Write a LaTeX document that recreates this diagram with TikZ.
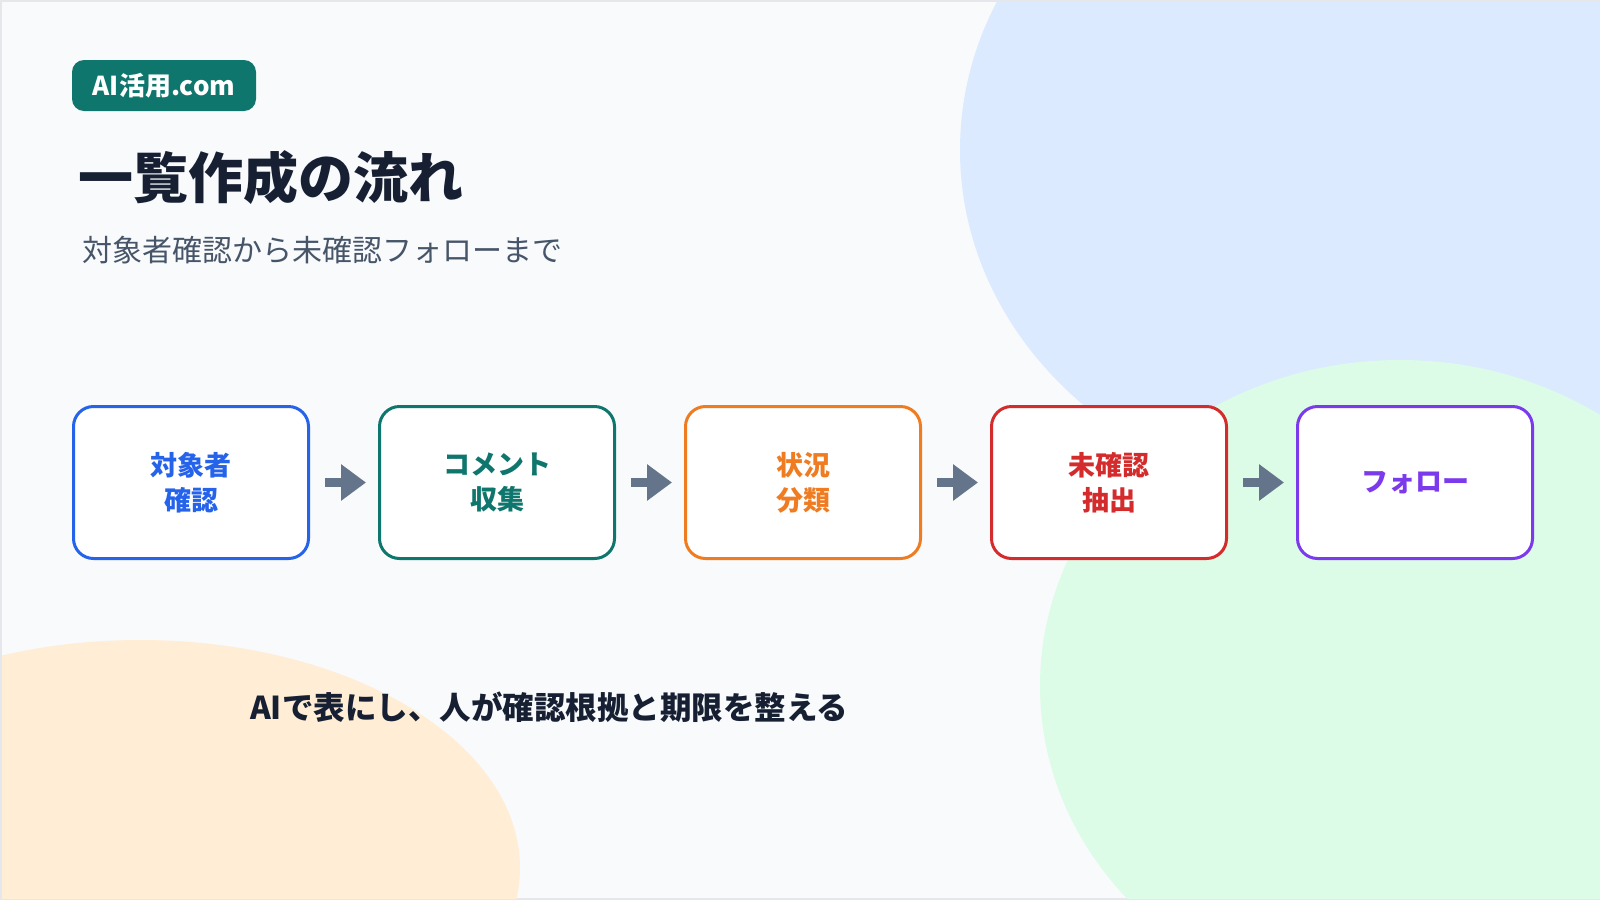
\documentclass[tikz,border=0pt]{standalone}
\usepackage{fontspec}
\setmainfont{Noto Sans CJK JP}
\usetikzlibrary{arrows.meta}
\definecolor{bg}{HTML}{F8FAFC}
\definecolor{framec}{HTML}{E5E7EB}
\definecolor{blobblue}{HTML}{DBEAFE}
\definecolor{blobgreen}{HTML}{DCFCE7}
\definecolor{blobpeach}{HTML}{FFEDD5}
\definecolor{badgec}{HTML}{0F766E}
\definecolor{ink}{HTML}{172033}
\definecolor{subc}{HTML}{475569}
\definecolor{arrowc}{HTML}{64748B}
\definecolor{cblue}{HTML}{2563EB}
\definecolor{cteal}{HTML}{0F766E}
\definecolor{corange}{HTML}{F07C22}
\definecolor{cred}{HTML}{D42C2C}
\definecolor{cpurple}{HTML}{7C3AED}
\tikzset{
  stepbox/.style={draw=#1, text=#1, fill=white, line width=3pt, rounded corners=20pt,
    minimum width=235pt, minimum height=152pt, align=center, inner sep=0pt,
    font=\bfseries\fontsize{27}{35}\selectfont},
  flowarrow/.style={draw=arrowc, line width=9pt, -{Triangle[length=25pt,width=35pt]},
    shorten <=15pt, shorten >=12pt},
  plaintext/.style={inner sep=0pt, anchor=west}
}
\begin{document}
\begin{tikzpicture}[x=1pt,y=-1pt]
\useasboundingbox (0,0) rectangle (1600,900);
\fill[framec] (0,0) rectangle (1600,900);
\fill[bg] (2,2) rectangle (1600,898);
\begin{scope}
  \clip (2,2) rectangle (1600,898);
  \fill[blobblue] (1360,150) ellipse [x radius=400pt, y radius=353pt];
  \fill[blobgreen] (1400,686) ellipse [x radius=360pt, y radius=326pt];
  \fill[blobpeach] (140,868) ellipse [x radius=380pt, y radius=228pt];
\end{scope}

\node[fill=badgec, rounded corners=12pt, minimum width=184pt, minimum height=51pt,
  text=white, inner sep=0pt, font=\bfseries\fontsize{26}{26}\selectfont] (badge) at (164,85.5) {AI活用.com};

\node[plaintext, text=ink, font=\bfseries\fontsize{55}{55}\selectfont] (title) at (78,178) {一覧作成の流れ};
\node[plaintext, text=subc, font=\fontsize{30}{30}\selectfont] (subtitle) at (82,250) {対象者確認から未確認フォローまで};

\node[stepbox=cblue] (b1) at (191,482.5) {対象者\\確認};
\node[stepbox=cteal] (b2) at (497,482.5) {コメント\\収集};
\node[stepbox=corange] (b3) at (803,482.5) {状況\\分類};
\node[stepbox=cred] (b4) at (1109,482.5) {未確認\\抽出};
\node[stepbox=cpurple] (b5) at (1415,482.5) {フォロー};

\draw[flowarrow] (b1) -- (b2);
\draw[flowarrow] (b2) -- (b3);
\draw[flowarrow] (b3) -- (b4);
\draw[flowarrow] (b4) -- (b5);

\node[plaintext, text=ink, font=\bfseries\fontsize{31.5}{31.5}\selectfont] (note) at (250,707) {AIで表にし、人が確認根拠と期限を整える};
\end{tikzpicture}
\end{document}
